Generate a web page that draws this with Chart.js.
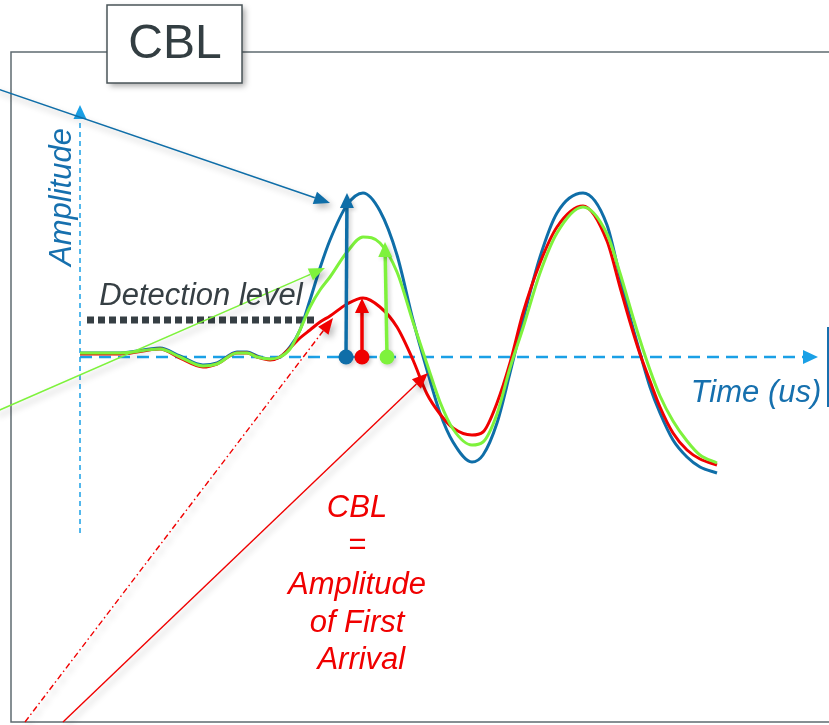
<!DOCTYPE html>
<html>
<head>
<meta charset="utf-8">
<script src="https://cdn.jsdelivr.net/npm/chart.js@4.4.1/dist/chart.umd.min.js"></script>
<style>
  html, body { margin: 0; padding: 0; background: #fff; }
  #chartContainer { width: 829px; height: 725px; position: relative; }
</style>
</head>
<body>
<div id="chartContainer"><canvas id="chart"></canvas></div>
<script>
// waveform samples: time (us, arbitrary origin) and amplitude per sensor
const timeUs = [0, 4, 8, 10, 12.3, 13.7, 15.7, 16.7, 17.7, 19, 20, 21, 22, 23, 24, 25, 26.7, 28.3, 30, 31.7,
  33.3, 34.7, 36, 37.3, 39.2, 40.3, 41.7, 43, 44.3, 46, 47.7, 50.3, 52.7, 54, 55, 56, 57, 58, 59.3, 60.7, 62, 63.7];
const blueAmp = [0.04, 0.04, 0.09, 0.01, -0.08, -0.06, 0.05, 0.05, 0.01, -0.02, 0, 0.10, 0.27, 0.57, 0.89, 1.17, 1.52, 1.64, 1.46, 1.02,
  0.37, -0.13, -0.56, -0.85, -1.05, -0.98, -0.66, -0.16, 0.37, 1.00, 1.44, 1.64, 1.32, 0.80, 0.40, 0.04, -0.30, -0.56, -0.83, -1.00, -1.10, -1.16];
const redAmp = [0.03, 0.03, 0.08, -0.01, -0.10, -0.07, 0.04, 0.04, 0, -0.03, 0, 0.09, 0.19, 0.27, 0.35, 0.41, 0.53, 0.59, 0.50, 0.30,
  -0.03, -0.37, -0.57, -0.71, -0.78, -0.75, -0.46, -0.06, 0.44, 0.94, 1.30, 1.51, 1.16, 0.70, 0.35, 0.03, -0.24, -0.50, -0.76, -0.93, -1.02, -1.08];
const greenAmp = [0.04, 0.04, 0.08, 0, -0.09, -0.07, 0.04, 0.04, 0, -0.02, 0, 0.08, 0.27, 0.50, 0.67, 0.80, 1.05, 1.20, 1.14, 0.85,
  0.35, -0.07, -0.45, -0.72, -0.88, -0.85, -0.57, -0.11, 0.29, 0.84, 1.24, 1.50, 1.23, 0.84, 0.50, 0.17, -0.13, -0.39, -0.64, -0.84, -0.98, -1.06];

// first-arrival peaks (time, amplitude) for each sensor
const bluePeak = [26.7, 1.64];
const redPeak = [28.2, 0.59];
const greenPeak = [30.5, 1.15];
const detectionAmp = 0.37;

const cblLines = ["CBL", "=", "Amplitude", "of First", " Arrival"];

const BLUE = "#0f6ea8";
const RED = "#f00000";
const GREEN = "#7ef23c";
const AXIS_BLUE = "#1aa0e6";
const TEXT_BLUE = "#1670ae";
const DARK = "#363f44";

const toSeries = (vals) => timeUs.map((t, i) => ({ x: t, y: vals[i] }));

function arrow(ctx, x1, y1, x2, y2, color, width, head, headW, dash) {
  const ang = Math.atan2(y2 - y1, x2 - x1);
  const bx = x2 - head * Math.cos(ang), by = y2 - head * Math.sin(ang);
  ctx.strokeStyle = color;
  ctx.fillStyle = color;
  ctx.lineWidth = width;
  ctx.setLineDash(dash || []);
  ctx.beginPath();
  ctx.moveTo(x1, y1);
  ctx.lineTo(bx, by);
  ctx.stroke();
  ctx.setLineDash([]);
  ctx.beginPath();
  ctx.moveTo(x2, y2);
  ctx.lineTo(bx + (headW / 2) * Math.sin(ang), by - (headW / 2) * Math.cos(ang));
  ctx.lineTo(bx - (headW / 2) * Math.sin(ang), by + (headW / 2) * Math.cos(ang));
  ctx.closePath();
  ctx.fill();
}

const diagram = {
  id: "diagram",
  beforeDatasetsDraw(chart) {
    const { ctx } = chart;
    const X = (v) => chart.scales.x.getPixelForValue(v);
    const Y = (v) => chart.scales.y.getPixelForValue(v);
    ctx.save();

    // frame
    ctx.strokeStyle = "#5f6b70";
    ctx.lineWidth = 1.5;
    ctx.beginPath();
    ctx.moveTo(chart.width + 5, Y(3.05));
    ctx.lineTo(X(-6.9), Y(3.05));
    ctx.lineTo(X(-6.9), Y(-3.65));
    ctx.lineTo(chart.width + 5, Y(-3.65));
    ctx.stroke();

    // amplitude axis
    arrow(ctx, X(0), Y(-1.76), X(0), Y(2.52), AXIS_BLUE, 1.5, 14, 13, [5, 4]);
    // time axis
    arrow(ctx, X(0), Y(0), X(73.8), Y(0), AXIS_BLUE, 2.5, 15, 14, [12, 7]);

    // detection level
    ctx.strokeStyle = DARK;
    ctx.lineWidth = 7;
    ctx.setLineDash([7, 4]);
    ctx.beginPath();
    ctx.moveTo(X(0.7), Y(detectionAmp));
    ctx.lineTo(X(23.8), Y(detectionAmp));
    ctx.stroke();
    ctx.setLineDash([]);

    ctx.restore();
  },
  afterDatasetsDraw(chart) {
    const { ctx } = chart;
    const X = (v) => chart.scales.x.getPixelForValue(v);
    const Y = (v) => chart.scales.y.getPixelForValue(v);
    ctx.save();

    // pointer lines with soft shadows
    ctx.shadowColor = "rgba(0,0,0,0.28)";
    ctx.shadowBlur = 6;
    ctx.shadowOffsetX = 3;
    ctx.shadowOffsetY = 4;
    arrow(ctx, X(-8.5), Y(2.69), X(25), Y(1.54), BLUE, 1.5, 16, 13);
    arrow(ctx, X(-8.5), Y(-0.55), X(24.5), Y(0.89), GREEN, 1.5, 16, 13);
    arrow(ctx, X(-5.5), Y(-3.65), X(25.3), Y(0.39), RED, 1.4, 16, 13, [6, 3, 1.5, 3]);
    arrow(ctx, X(-1.7), Y(-3.65), X(34.8), Y(-0.16), RED, 1.4, 16, 13);

    // vertical peak arrows
    ctx.shadowBlur = 4;
    ctx.shadowOffsetX = 2;
    ctx.shadowOffsetY = 2;
    ctx.shadowColor = "rgba(0,0,0,0.2)";
    const peaks = [[26.6, bluePeak, BLUE], [28.2, redPeak, RED], [30.7, greenPeak, GREEN]];
    peaks.forEach(([base, peak, color]) => {
      arrow(ctx, X(base), Y(0), X(peak[0]), Y(peak[1]), color, 3.5, 15, 14);
      ctx.beginPath();
      ctx.arc(X(base), Y(0), 7.5, 0, Math.PI * 2);
      ctx.fill();
    });
    ctx.shadowColor = "transparent";

    // CBL title box
    ctx.shadowColor = "rgba(0,0,0,0.35)";
    ctx.shadowBlur = 6;
    ctx.shadowOffsetX = 3;
    ctx.shadowOffsetY = 3;
    ctx.fillStyle = "#fff";
    const bx = X(2.7), by = Y(3.52), bw = X(16.2) - X(2.7), bh = Y(2.74) - Y(3.52);
    ctx.fillRect(bx, by, bw, bh);
    ctx.shadowColor = "transparent";
    ctx.strokeStyle = "#4a5458";
    ctx.lineWidth = 1.5;
    ctx.strokeRect(bx, by, bw, bh);
    ctx.fillStyle = "#333e42";
    ctx.font = "48px 'Liberation Sans', Arial, sans-serif";
    ctx.textAlign = "center";
    ctx.textBaseline = "middle";
    ctx.fillText("CBL", X(9.5), Y(3.12));

    // labels
    ctx.font = "italic 31px 'Liberation Sans', Arial, sans-serif";
    ctx.fillStyle = DARK;
    ctx.fillText("Detection level", X(12.1), Y(0.61));
    ctx.fillStyle = TEXT_BLUE;
    ctx.fillText("Time (us)", X(67.6), Y(-0.36));
    ctx.save();
    ctx.translate(X(-1.8), Y(1.6));
    ctx.rotate(-Math.PI / 2);
    ctx.fillText("Amplitude", 0, 0);
    ctx.restore();

    // right marker bar
    ctx.strokeStyle = TEXT_BLUE;
    ctx.lineWidth = 2;
    ctx.beginPath();
    ctx.moveTo(X(74.8), Y(0.3));
    ctx.lineTo(X(74.8), Y(-0.5));
    ctx.stroke();

    // CBL definition
    ctx.fillStyle = RED;
    const lineAmps = [-1.51, -1.88, -2.28, -2.66, -3.03];
    cblLines.forEach((txt, i) => ctx.fillText(txt, X(27.7), Y(lineAmps[i])));

    ctx.restore();
  },
};

const config = {
  type: "line",
  data: {
    datasets: [
      { label: "Green", data: toSeries(greenAmp), borderColor: GREEN, order: 0 },
      { label: "Red", data: toSeries(redAmp), borderColor: RED, order: 1 },
      { label: "Blue", data: toSeries(blueAmp), borderColor: BLUE, order: 2 },
    ],
  },
  options: {
    responsive: true,
    maintainAspectRatio: false,
    animation: false,
    layout: { padding: 0 },
    elements: {
      point: { radius: 0 },
      line: { borderWidth: 3, cubicInterpolationMode: "monotone", fill: false },
    },
    scales: {
      x: { type: "linear", min: -8, max: 74.9, display: false },
      y: { min: -3.68, max: 3.57, display: false },
    },
    plugins: {
      legend: { display: false },
      tooltip: { enabled: false },
    },
  },
  plugins: [diagram],
};

new Chart(document.getElementById("chart").getContext("2d"), config);
</script>
</body>
</html>
